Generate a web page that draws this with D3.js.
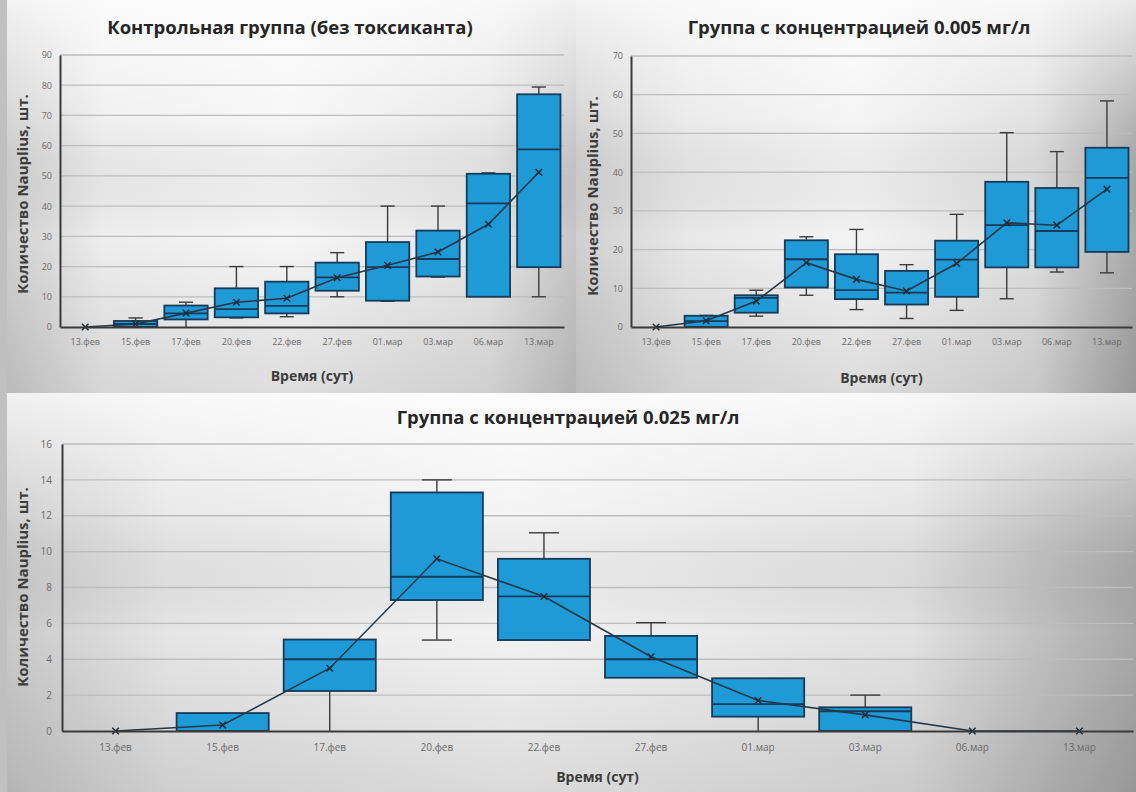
<!DOCTYPE html>
<html>
<head>
<meta charset="utf-8">
<script src="https://cdn.jsdelivr.net/npm/d3@7"></script>
<style>
  body { margin: 0; background: #d6d6d6; }
  svg { display: block; }
  text { font-family: "Open Sans", "Noto Sans", sans-serif; }
</style>
</head>
<body>
<svg id="chart" width="1136" height="792"></svg>
<script>
// Sampling dates
const categories = ["13.фев", "15.фев", "17.фев", "20.фев", "22.фев", "27.фев", "01.мар", "03.мар", "06.мар", "13.мар"];

// Control group (no toxicant): five-number summary and mean
const controlMin    = [0, 0, 0,   3,    3.4, 10,   8.5,  16.5, 10,   10];
const controlQ1     = [0, 0, 2.5, 3.2,  4.5, 12,   8.7,  16.7, 10,   19.8];
const controlMedian = [0, 1, 4.5, 5.9,  7,   16.4, 19.8, 22.5, 40.9, 58.8];
const controlQ3     = [0, 2, 7.1, 12.8, 15,  21.3, 28.1, 31.9, 50.7, 77];
const controlMax    = [0, 3, 8.2, 20,   20,  24.6, 40,   40,   51,   79.4];
const controlMean   = [0, 1, 4.6, 8.2,  9.5, 16.3, 20.4, 24.8, 34,   51.2];

// 0.005 mg/l group
const lowMin    = [0, 0,   2.8, 8.2,  4.5,  2.2,  4.3,  7.3,  14.2, 14];
const lowQ1     = [0, 0,   3.7, 10.2, 7.2,  5.8,  7.8,  15.4, 15.4, 19.4];
const lowMedian = [0, 1.5, 7.5, 17.5, 9.5,  8.9,  17.4, 26.3, 24.8, 38.5];
const lowQ3     = [0, 2.9, 8.2, 22.4, 18.8, 14.5, 22.3, 37.5, 35.9, 46.3];
const lowMax    = [0, 3,   9.5, 23.3, 25.2, 16.1, 29.1, 50.2, 45.3, 58.4];
const lowMean   = [0, 1.6, 6.7, 16.6, 12.3, 9.3,  16.4, 26.9, 26.3, 35.6];

// 0.025 mg/l group
const highMin    = [0, 0,    0,    5.07, 5.07,  2.97, 0,    0,    0, 0];
const highQ1     = [0, 0,    2.23, 7.3,  5.07,  2.97, 0.8,  0,    0, 0];
const highMedian = [0, 0,    4,    8.6,  7.5,   4,    1.5,  1.1,  0, 0];
const highQ3     = [0, 1,    5.1,  13.3, 9.6,   5.3,  2.94, 1.32, 0, 0];
const highMax    = [0, 1,    5.1,  14,   11.05, 6.04, 2.94, 2,    0, 0];
const highMean   = [0, 0.33, 3.5,  9.6,  7.5,   4.14, 1.7,  0.9,  0, 0];

// Axis tick values
const controlTicks = [0, 10, 20, 30, 40, 50, 60, 70, 80, 90];
const lowTicks     = [0, 10, 20, 30, 40, 50, 60, 70];
const highTicks    = [0, 2, 4, 6, 8, 10, 12, 14, 16];

// Texts
const titleControl = "Контрольная группа (без токсиканта)";
const titleLow     = "Группа с концентрацией 0.005 мг/л";
const titleHigh    = "Группа с концентрацией 0.025 мг/л";
const xTitle = "Время (сут)";
const yTitle = "Количество Nauplius, шт.";

function series(min, q1, med, q3, max, mean) {
  return categories.map((c, i) => ({ cat: c, min: min[i], q1: q1[i], med: med[i], q3: q3[i], max: max[i], mean: mean[i] }));
}

const panels = [
  { id: "a", bg: [0, 0, 576, 393],
    shade: [["#cdcdcd", 0], ["#eeeeee", 0.18], ["#f6f6f6", 0.5], ["#e6e6e6", 0.85], ["#c6c6c6", 1]], bottomDark: 0.10,
    title: titleControl, titleX: 290, titleY: 34,
    xr: [60, 564], yZero: 327, yTop: 55, domain: [0, 90], ticks: controlTicks,
    data: series(controlMin, controlQ1, controlMedian, controlQ3, controlMax, controlMean),
    xTitleY: 381, yTitleX: 23, yTitleMid: 194, xPad: 12, yPad: 8, tickFont: 9 },
  { id: "b", bg: [576, 0, 560, 393],
    shade: [["#d0d0d0", 0], ["#e8e8e8", 0.2], ["#f4f4f4", 0.5], ["#dedede", 0.82], ["#a9a9a9", 1]], bottomDark: 0.10,
    title: titleLow, titleX: 859, titleY: 34,
    xr: [631, 1132], yZero: 327, yTop: 56, domain: [0, 70], ticks: lowTicks,
    data: series(lowMin, lowQ1, lowMedian, lowQ3, lowMax, lowMean),
    xTitleY: 383, yTitleX: 593, yTitleMid: 196, xPad: 12, yPad: 8, tickFont: 9 },
  { id: "c", bg: [0, 393, 1136, 399],
    shade: [["#c8c8c8", 0], ["#e6e6e6", 0.15], ["#f3f3f3", 0.45], ["#e2e2e2", 0.8], ["#a8a8a8", 1]], bottomDark: 0.10,
    title: titleHigh, titleX: 568, titleY: 424,
    xr: [62, 1133], yZero: 731, yTop: 444, domain: [0, 16], ticks: highTicks,
    data: series(highMin, highQ1, highMedian, highQ3, highMax, highMean),
    xTitleY: 782, yTitleX: 23, yTitleMid: 587, xPad: 13, yPad: 10, tickFont: 10 }
];

const svg = d3.select("#chart");
const defs = svg.append("defs");

function drawPanel(p) {
  const g = svg.append("g").attr("class", "panel-" + p.id);
  const [bx, by, bw, bh] = p.bg;

  // Grey backdrop: horizontal shading, brightened at the top and dimmed toward the bottom
  const hg = defs.append("linearGradient").attr("id", "h-" + p.id)
    .attr("x1", 0).attr("x2", 1).attr("y1", 0).attr("y2", 0);
  p.shade.forEach(([c, o]) => hg.append("stop").attr("offset", o).attr("stop-color", c));
  const vg = defs.append("linearGradient").attr("id", "v-" + p.id)
    .attr("x1", 0).attr("x2", 0).attr("y1", 0).attr("y2", 1);
  vg.append("stop").attr("offset", 0).attr("stop-color", "#ffffff").attr("stop-opacity", 0.75);
  vg.append("stop").attr("offset", 0.3).attr("stop-color", "#ffffff").attr("stop-opacity", 0.15);
  vg.append("stop").attr("offset", 0.6).attr("stop-color", "#000000").attr("stop-opacity", 0);
  vg.append("stop").attr("offset", 1).attr("stop-color", "#000000").attr("stop-opacity", p.bottomDark);
  g.append("rect").attr("x", bx).attr("y", by).attr("width", bw).attr("height", bh)
    .attr("fill", `url(#h-${p.id})`);
  g.append("rect").attr("x", bx).attr("y", by).attr("width", bw).attr("height", bh)
    .attr("fill", `url(#v-${p.id})`);

  const x = d3.scaleBand().domain(categories).range(p.xr).padding(0);
  const y = d3.scaleLinear().domain(p.domain).range([p.yZero, p.yTop]);
  const step = x.step();
  const boxW = step * 0.86;
  const capW = step * 0.28;
  const cx = d => x(d.cat) + x.bandwidth() / 2;

  // Horizontal gridlines
  g.append("g").selectAll("line").data(p.ticks.filter(t => t > 0)).join("line")
    .attr("x1", p.xr[0]).attr("x2", p.xr[1])
    .attr("y1", d => y(d)).attr("y2", d => y(d))
    .attr("stroke", "#bdbdbd").attr("stroke-width", 1.3);

  const items = p.data.filter(d => d.max > 0);

  // Whiskers
  const wk = g.append("g").attr("stroke", "#3b3b3b").attr("stroke-width", 1.4);
  wk.selectAll("line.up").data(items.filter(d => d.max > d.q3)).join("line")
    .attr("x1", cx).attr("x2", cx).attr("y1", d => y(d.q3)).attr("y2", d => y(d.max));
  wk.selectAll("line.down").data(items.filter(d => d.min < d.q1)).join("line")
    .attr("x1", cx).attr("x2", cx).attr("y1", d => y(d.q1)).attr("y2", d => y(d.min));
  wk.selectAll("line.capTop").data(items.filter(d => d.max > d.q3)).join("line")
    .attr("x1", d => cx(d) - capW / 2).attr("x2", d => cx(d) + capW / 2)
    .attr("y1", d => y(d.max)).attr("y2", d => y(d.max));
  wk.selectAll("line.capBot").data(items.filter(d => d.min < d.q1 && d.min > 0)).join("line")
    .attr("x1", d => cx(d) - capW / 2).attr("x2", d => cx(d) + capW / 2)
    .attr("y1", d => y(d.min)).attr("y2", d => y(d.min));

  // Boxes
  g.append("g").selectAll("rect").data(items).join("rect")
    .attr("x", d => cx(d) - boxW / 2).attr("width", boxW)
    .attr("y", d => y(d.q3)).attr("height", d => y(d.q1) - y(d.q3))
    .attr("fill", "#1e9ad6").attr("stroke", "#173a58").attr("stroke-width", 1.8);

  // Medians
  g.append("g").selectAll("line").data(items.filter(d => d.med > d.q1 && d.med < d.q3)).join("line")
    .attr("x1", d => cx(d) - boxW / 2).attr("x2", d => cx(d) + boxW / 2)
    .attr("y1", d => y(d.med)).attr("y2", d => y(d.med))
    .attr("stroke", "#173a58").attr("stroke-width", 1.8);

  // Mean line and markers
  const line = d3.line().x(cx).y(d => y(d.mean));
  g.append("path").datum(p.data).attr("d", line)
    .attr("fill", "none").attr("stroke", "#263746").attr("stroke-width", 1.6);
  g.append("g").selectAll("path").data(p.data).join("path")
    .attr("transform", d => `translate(${cx(d)},${y(d.mean)})`)
    .attr("d", d3.symbol(d3.symbolTimes, 30))
    .attr("fill", "none").attr("stroke", "#1c2c3a").attr("stroke-width", 1.5);

  // Axes
  const ya = g.append("g").attr("transform", `translate(${p.xr[0]},0)`)
    .call(d3.axisLeft(y).tickValues(p.ticks).tickSize(0).tickPadding(p.yPad));
  ya.select(".domain").attr("stroke", "#3a3a3a").attr("stroke-width", 2);
  ya.selectAll("text").attr("fill", "#6a6a6a").attr("font-size", p.tickFont)
    .attr("font-family", "'Liberation Serif', serif");

  const xa = g.append("g").attr("transform", `translate(0,${p.yZero})`)
    .call(d3.axisBottom(x).tickSize(0).tickPadding(p.xPad));
  xa.select(".domain").attr("stroke", "#3a3a3a").attr("stroke-width", 2.2);
  xa.selectAll("text").attr("fill", "#6a6a6a").attr("font-size", p.tickFont)
    .attr("font-family", "'Liberation Serif', serif");

  // Titles
  g.append("text").attr("x", p.titleX).attr("y", p.titleY).attr("text-anchor", "middle")
    .attr("font-size", 18.5).attr("font-weight", 700).attr("fill", "#262626").text(p.title);
  g.append("text").attr("x", (p.xr[0] + p.xr[1]) / 2).attr("y", p.xTitleY).attr("text-anchor", "middle")
    .attr("font-size", 14).attr("font-weight", 700).attr("fill", "#3c3c3c").text(xTitle);
  g.append("text").attr("transform", `translate(${p.yTitleX},${p.yTitleMid}) rotate(-90)`)
    .attr("dy", "0.35em").attr("text-anchor", "middle")
    .attr("font-size", 15).attr("font-weight", 700).attr("fill", "#3c3c3c").text(yTitle);
}

panels.forEach(drawPanel);

// Darker strip along the left edge
svg.append("rect").attr("x", 0).attr("y", 0).attr("width", 7).attr("height", 792).attr("fill", "#c0c0c0");
</script>
</body>
</html>
